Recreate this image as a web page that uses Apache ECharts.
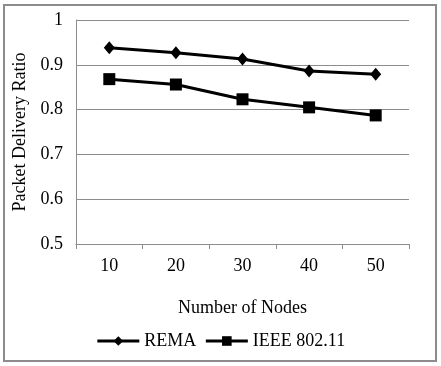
<!DOCTYPE html>
<html>
<head>
<meta charset="utf-8">
<script src="https://cdn.jsdelivr.net/npm/echarts@6/dist/echarts.min.js"></script>
<style>
  html, body { margin: 0; padding: 0; background: #fff; }
  #chart { width: 441px; height: 366px; }
</style>
</head>
<body>
<div id="chart"></div>
<script>
// values
var nodes = ['10', '20', '30', '40', '50']
var rema = [0.938, 0.927, 0.913, 0.886, 0.879]
var ieee = [0.868, 0.856, 0.823, 0.805, 0.787]
var yTicks = [0.5, 0.6, 0.7, 0.8, 0.9, 1]

var font = '"Liberation Serif", "Times New Roman", serif'
var chart = echarts.init(document.getElementById('chart'))

var option = {
    animation: false,
    textStyle: {fontFamily: font, color: '#000'},
    graphic: [{
        type: 'rect',
        shape: {x: 4, y: 5, width: 432, height: 356},
        style: {fill: 'none', stroke: '#8c8c8c', lineWidth: 2}
    }],
    grid: {left: 76, right: 32, top: 20, bottom: 122},
    legend: {
        bottom: 11,
        left: 'center',
        itemWidth: 42,
        itemHeight: 12,
        itemGap: 8,
        lineStyle: {width: 3},
        textStyle: {fontFamily: font, fontSize: 18, color: '#000'},
        data: ['REMA', 'IEEE 802.11']
    },
    xAxis: {
        type: 'category',
        data: nodes,
        boundaryGap: true,
        name: 'Number of Nodes',
        nameLocation: 'middle',
        nameGap: 55,
        nameTextStyle: {fontFamily: font, fontSize: 18, color: '#000'},
        axisLine: {lineStyle: {color: '#8c8c8c', width: 1}},
        axisTick: {show: true, length: 5, lineStyle: {color: '#8c8c8c'}},
        axisLabel: {fontFamily: font, fontSize: 18, color: '#000', margin: 13}
    },
    yAxis: {
        type: 'value',
        min: 0.5,
        max: 1,
        interval: 0.1,
        name: 'Packet Delivery Ratio',
        nameLocation: 'middle',
        nameGap: 47,
        nameTextStyle: {fontFamily: font, fontSize: 18, color: '#000'},
        axisLine: {show: true, lineStyle: {color: '#8c8c8c', width: 1}},
        axisTick: {show: false},
        splitLine: {lineStyle: {color: '#8c8c8c', width: 1}},
        axisLabel: {
            fontFamily: font, fontSize: 18, color: '#000', margin: 13,
            formatter: function (v) {
                var t = yTicks.find(function (k) { return Math.abs(k - v) < 1e-9 })
                return t === undefined ? '' : String(t)
            }
        }
    },
    series: [{
        name: 'REMA',
        type: 'line',
        data: rema,
        symbol: 'diamond',
        symbolSize: [11, 13],
        itemStyle: {color: '#000'},
        lineStyle: {color: '#000', width: 3}
    }, {
        name: 'IEEE 802.11',
        type: 'line',
        data: ieee,
        symbol: 'rect',
        symbolSize: 12,
        itemStyle: {color: '#000'},
        lineStyle: {color: '#000', width: 3}
    }]
}

option && chart.setOption(option)
</script>
</body>
</html>
